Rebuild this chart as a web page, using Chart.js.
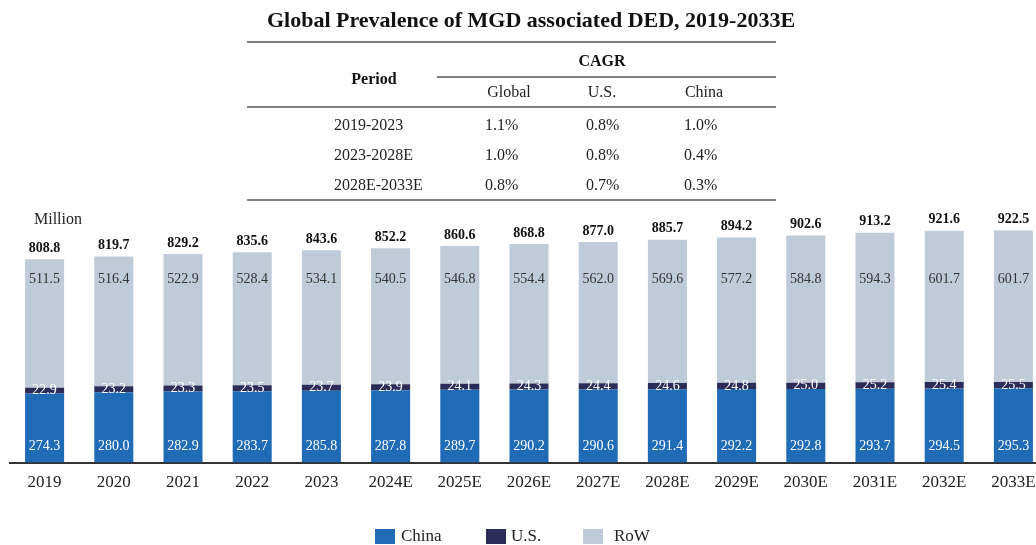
<!DOCTYPE html>
<html>
<head>
<meta charset="utf-8">
<script src="https://cdn.jsdelivr.net/npm/chart.js@4.4.1/dist/chart.umd.min.js"></script>
<style>
  html, body { margin: 0; padding: 0; background: #fff; overflow: hidden; }
  #wrap { width: 1048px; height: 545px; position: relative; }
</style>
</head>
<body>
<div id="wrap"><canvas id="myChart"></canvas></div>
<script>
'use strict';

// ** DATA **

let years = ['2019', '2020', '2021', '2022', '2023', '2024E', '2025E', '2026E', '2027E', '2028E', '2029E', '2030E', '2031E', '2032E', '2033E'];
let chinaValues = [274.3, 280.0, 282.9, 283.7, 285.8, 287.8, 289.7, 290.2, 290.6, 291.4, 292.2, 292.8, 293.7, 294.5, 295.3];
let usValues = [22.9, 23.2, 23.3, 23.5, 23.7, 23.9, 24.1, 24.3, 24.4, 24.6, 24.8, 25.0, 25.2, 25.4, 25.5];
let rowValues = [511.5, 516.4, 522.9, 528.4, 534.1, 540.5, 546.8, 554.4, 562.0, 569.6, 577.2, 584.8, 594.3, 601.7, 601.7];
let totalValues = [808.8, 819.7, 829.2, 835.6, 843.6, 852.2, 860.6, 868.8, 877.0, 885.7, 894.2, 902.6, 913.2, 921.6, 922.5];

// CAGR table
let periods = ['2019-2023', '2023-2028E', '2028E-2033E'];
let cagrGlobal = ['1.1%', '1.0%', '0.8%'];
let cagrUS = ['0.8%', '0.8%', '0.7%'];
let cagrChina = ['1.0%', '0.4%', '0.3%'];

const SERIF = '"Liberation Serif", "Times New Roman", serif';
const ctx = document.getElementById('myChart');

// ** PLUGIN: title, table, labels, legend **

const decorPlugin = {
  id: 'decor',
  afterDraw(chart) {
    const c = chart.ctx;
    const yScale = chart.scales.y;
    c.save();

    // title
    c.fillStyle = '#111';
    c.textAlign = 'center';
    c.textBaseline = 'middle';
    c.font = 'bold 22px ' + SERIF;
    c.fillText('Global Prevalence of MGD associated DED, 2019-2033E', 531, 21);

    // table lines
    c.strokeStyle = '#555';
    c.lineWidth = 1.5;
    [[247, 42], [437, 77], [247, 107], [247, 200]].forEach(function (l) {
      c.beginPath();
      c.moveTo(l[0], l[1]);
      c.lineTo(776, l[1]);
      c.stroke();
    });

    c.font = 'bold 16px ' + SERIF;
    c.fillText('Period', 374, 80);
    c.fillText('CAGR', 602, 62);
    c.font = '16px ' + SERIF;
    c.fillStyle = '#222';
    c.fillText('Global', 509, 93);
    c.fillText('U.S.', 602, 93);
    c.fillText('China', 704, 93);

    c.textAlign = 'left';
    for (let i = 0; i < periods.length; i++) {
      let rowY = 126 + i * 30;
      c.fillText(periods[i], 334, rowY);
      c.fillText(cagrGlobal[i], 485, rowY);
      c.fillText(cagrUS[i], 586, rowY);
      c.fillText(cagrChina[i], 684, rowY);
    }

    // unit
    c.fillText('Million', 34, 220);

    // bar labels
    c.textAlign = 'center';
    let chinaBars = chart.getDatasetMeta(0).data;
    let usBars = chart.getDatasetMeta(1).data;
    let rowBars = chart.getDatasetMeta(2).data;
    for (let i = 0; i < years.length; i++) {
      c.font = '14px ' + SERIF;
      c.fillStyle = '#fff';
      c.fillText(chinaValues[i].toFixed(1), chinaBars[i].x, yScale.getPixelForValue(66));
      c.fillText(usValues[i].toFixed(1), usBars[i].x, (usBars[i].y + usBars[i].base) / 2);
      c.fillStyle = '#333';
      c.fillText(rowValues[i].toFixed(1), rowBars[i].x, yScale.getPixelForValue(729));
      c.fillStyle = '#111';
      c.font = 'bold 14px ' + SERIF;
      c.fillText(totalValues[i].toFixed(1), rowBars[i].x, rowBars[i].y - 11);
    }

    // legend
    let legendX = [375, 486, 583];
    let legendTextX = [401, 511, 614];
    c.font = '17px ' + SERIF;
    c.textAlign = 'left';
    chart.data.datasets.forEach(function (ds, i) {
      c.fillStyle = ds.backgroundColor;
      c.fillRect(legendX[i], 529, 20, 15);
      c.fillStyle = '#222';
      c.fillText(ds.label, legendTextX[i], 537);
    });

    c.restore();
  }
};

// ** CHART **

let myChartObj = {
  type: 'bar',
  data: {
    labels: years,
    datasets: [{
      label: 'China',
      data: chinaValues,
      backgroundColor: '#1f6bb5'
    },
    {
      label: 'U.S.',
      data: usValues,
      backgroundColor: '#2b2d58'
    },
    {
      label: 'RoW',
      data: rowValues,
      backgroundColor: '#bfcbd9'
    }]
  },
  options: {
    responsive: true,
    maintainAspectRatio: false,
    animation: false,
    layout: {
      padding: { top: 211, left: 10, right: 0, bottom: 42 }
    },
    datasets: {
      bar: { barPercentage: 0.564, categoryPercentage: 1 }
    },
    plugins: {
      legend: { display: false },
      tooltip: { enabled: false }
    },
    scales: {
      x: {
        stacked: true,
        grid: { display: false, drawTicks: false },
        border: { display: true, color: '#333', width: 2 },
        ticks: {
          padding: 10,
          color: '#222',
          font: { family: SERIF, size: 17 },
          maxRotation: 0,
          autoSkip: false
        }
      },
      y: {
        stacked: true,
        display: false,
        min: 0,
        max: 1000
      }
    }
  },
  plugins: [decorPlugin]
};

new Chart(ctx, myChartObj);
</script>
</body>
</html>
